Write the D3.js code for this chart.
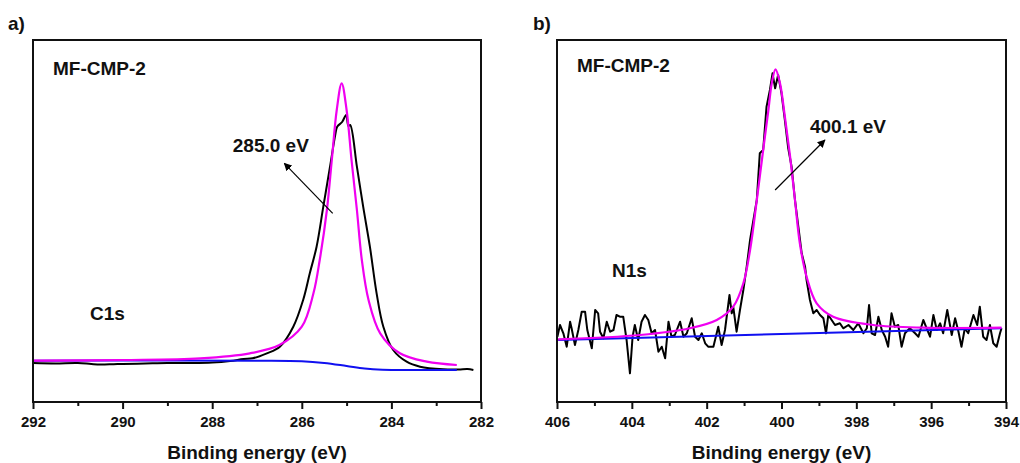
<!DOCTYPE html>
<meta charset="utf-8">
<style>
body { margin: 0; background: #fff; }
text { font-family: "Liberation Sans", Arial, sans-serif; font-weight: bold; fill: #111; }
.frame { fill: none; stroke: #111; stroke-width: 2px; }
.axis path { display: none; }
.axis line { stroke: #111; stroke-width: 2px; }
.axis text { font-size: 15px; }
.raw { fill: none; stroke: #000; stroke-width: 2px; stroke-linejoin: round; }
.bg { fill: none; stroke: #1010f0; stroke-width: 2px; }
.fit { fill: none; stroke: #f000f0; stroke-width: 2.2px; }
.arrow { stroke: #000; stroke-width: 1.2px; }
</style>
<svg width="1020" height="463"></svg>
<script src="https://d3js.org/d3.v7.min.js"></script>
<script>

// ---- C1s (panel a): [binding energy eV, intensity a.u.]
var c1sRaw = [
  [292.0, 39], [291.5, 38.6], [291.0, 39], [290.7, 38], [290.5, 37.5], [290.2, 37.8], [290.0, 38],
  [289.5, 38.5], [289.0, 39], [288.5, 39], [288.0, 39.5], [287.6, 41], [287.3, 43], [287.1, 43.7],
  [286.78, 48.7], [286.49, 55.3], [286.19, 75.3], [285.97, 102], [285.82, 129], [285.67, 155.3],
  [285.52, 195.3], [285.37, 235.3], [285.25, 268], [285.21, 275.3], [285.1, 280], [285.01, 287],
  [284.96, 276], [284.92, 277], [284.77, 235.3], [284.63, 195.3], [284.48, 155.3], [284.33, 108.7],
  [284.18, 75.3], [283.96, 52], [283.66, 40.3], [283.36, 35.3], [282.84, 32.7], [282.5, 32.5],
  [282.3, 32.9], [282.17, 32]
];
var c1sBackground = [
  [292.0, 41.3], [289.0, 41.5], [287.0, 41.2], [286.0, 40.7], [285.5, 39], [285.0, 36],
  [284.6, 33.5], [284.2, 32.3], [283.5, 32], [282.54, 32]
];
var c1sFit = [
  [292.0, 41.3], [290.0, 42], [288.27, 43.7], [287.16, 48.7], [286.5, 57], [286.0, 75.3],
  [285.74, 108.7], [285.6, 142], [285.44, 192], [285.33, 242], [285.22, 292], [285.11, 318.7],
  [285.0, 292], [284.89, 242], [284.77, 192], [284.66, 142], [284.51, 102], [284.25, 68.7],
  [283.81, 48.7], [283.21, 40.3], [282.54, 37]
];

// ---- N1s (panel b)
var n1sRaw = [
  [405.99, 65.3], [405.92, 77], [405.83, 68.7], [405.74, 55.3], [405.65, 80.3], [405.61, 73.7],
  [405.52, 57], [405.43, 72], [405.34, 90.3], [405.25, 90.3], [405.19, 72], [405.07, 53.7],
  [404.98, 92], [404.90, 88.7], [404.85, 70.3], [404.76, 63.7], [404.67, 80.3], [404.58, 70.3],
  [404.49, 72], [404.41, 87], [404.32, 85.3], [404.23, 85.3], [404.14, 62], [404.05, 28.7],
  [403.98, 65.3], [403.92, 77], [403.83, 62], [403.74, 80.3], [403.65, 87], [403.56, 82],
  [403.47, 68.7], [403.38, 72], [403.29, 50.3], [403.20, 55.3], [403.11, 43.7], [403.02, 80.3],
  [402.94, 65.3], [402.85, 67], [402.71, 80.3], [402.62, 65.3], [402.53, 68.7], [402.40, 83.7],
  [402.31, 65.3], [402.22, 62], [402.13, 68.7], [402.04, 58.7], [401.96, 55.3], [401.82, 55.3],
  [401.69, 75.3], [401.60, 57], [401.51, 72], [401.39, 107], [401.33, 88.7], [401.29, 95.3],
  [401.20, 70.3], [401.11, 92], [401.02, 112], [400.93, 135.3], [400.84, 162], [400.75, 182],
  [400.66, 202], [400.58, 248.7], [400.49, 252], [400.40, 295.3], [400.31, 312], [400.24, 328.7],
  [400.17, 313.7], [400.09, 327], [400.00, 308.7], [399.91, 282], [399.82, 253.7], [399.73, 235.3],
  [399.64, 202], [399.55, 175.3], [399.46, 148.7], [399.37, 135.3], [399.33, 122], [399.24, 102],
  [399.15, 88.7], [399.06, 92], [398.97, 87], [398.88, 83.7], [398.81, 68.7], [398.75, 87],
  [398.66, 82], [398.57, 77], [398.44, 78.7], [398.35, 73.7], [398.21, 77], [398.08, 72],
  [397.95, 78.7], [397.81, 68.7], [397.72, 73.7], [397.66, 97], [397.59, 68.7], [397.50, 67],
  [397.41, 85.3], [397.32, 72], [397.23, 65.3], [397.15, 55.3], [397.06, 88.7], [396.97, 75.3],
  [396.88, 77], [396.79, 55.3], [396.70, 68.7], [396.57, 73.7], [396.43, 68.7], [396.34, 65.3],
  [396.21, 82], [396.12, 73.7], [396.03, 65.3], [395.94, 87], [395.85, 72], [395.76, 78.7],
  [395.68, 68.7], [395.57, 92], [395.45, 67], [395.36, 83.7], [395.27, 70.3], [395.19, 55.3],
  [395.10, 73.7], [395.01, 68.7], [394.87, 87], [394.77, 77], [394.70, 95.3], [394.61, 65.3],
  [394.52, 62], [394.43, 77], [394.34, 58.7], [394.25, 55.3], [394.16, 68.7], [394.12, 73.7]
];
var n1sBackground = [[405.97, 62], [394.12, 73.7]];
var n1sFit = [
  [405.97, 62.7], [403.78, 67], [402.45, 73.7], [401.73, 82], [401.29, 95.3], [401.02, 118.7],
  [400.84, 152], [400.66, 202], [400.49, 252], [400.35, 292], [400.26, 318.7], [400.16, 332.7],
  [400.04, 318.7], [399.91, 285.3], [399.77, 245.3], [399.64, 202], [399.51, 158.7],
  [399.33, 125.3], [399.06, 98.7], [398.62, 85.3], [397.55, 77], [396.21, 74.3], [394.12, 74.3]
];

// tick values
var c1sTicks = [292, 290, 288, 286, 284, 282];
var c1sMinor = [291, 289, 287, 285, 283];
var n1sTicks = [406, 404, 402, 400, 398, 396, 394];
var n1sMinor = [405, 403, 401, 399, 397, 395];

// annotations: [eV, intensity] of arrow tail, arrow tip, label anchor
var c1sPeak = {label: "285.0 eV", tail: [285.31, 188.7], tip: [286.39, 238.7], text: [287.54, 250]};
var n1sPeak = {label: "400.1 eV", tail: [400.17, 212], tip: [398.84, 262], text: [399.24, 269]};

var svg = d3.select("svg");

svg.append("defs").append("marker")
  .attr("id", "head")
  .attr("viewBox", "0 0 10 10")
  .attr("refX", 9).attr("refY", 5)
  .attr("markerWidth", 8).attr("markerHeight", 8)
  .attr("markerUnits", "userSpaceOnUse")
  .attr("orient", "auto")
  .append("path").attr("d", "M0,0L10,5L0,10z").attr("fill", "#000");

var panels = [
  {tag: "a)", tagX: 8, left: 33, right: 481, domain: [292, 282], ticks: c1sTicks, minor: c1sMinor,
   raw: c1sRaw, rawSmooth: true, bg: c1sBackground, fit: c1sFit, peak: c1sPeak,
   core: "C1s", coreX: 90, coreY: 320, nameY: 75},
  {tag: "b)", tagX: 533, left: 557, right: 1006, domain: [406, 394], ticks: n1sTicks, minor: n1sMinor,
   raw: n1sRaw, rawSmooth: false, bg: n1sBackground, fit: n1sFit, peak: n1sPeak,
   core: "N1s", coreX: 612, coreY: 277, nameY: 72}
];

var plotTop = 40, plotBottom = 402;

panels.forEach(function(p) {
  var x = d3.scaleLinear().domain(p.domain).range([p.left, p.right]);
  var y = d3.scaleLinear().domain([0, 362]).range([plotBottom, plotTop]);
  var smooth = d3.line().x(d => x(d[0])).y(d => y(d[1])).curve(d3.curveCatmullRom.alpha(0.5));
  var straight = d3.line().x(d => x(d[0])).y(d => y(d[1]));
  var g = svg.append("g");

  g.append("path").datum(p.raw).attr("class", "raw").attr("d", p.rawSmooth ? smooth : straight);
  g.append("path").datum(p.bg).attr("class", "bg").attr("d", smooth);
  g.append("path").datum(p.fit).attr("class", "fit").attr("d", smooth);

  // axes
  g.append("g").attr("class", "axis")
    .attr("transform", "translate(0," + plotBottom + ")")
    .call(d3.axisBottom(x).tickValues(p.ticks).tickSize(7).tickPadding(7).tickFormat(d3.format("d")));
  g.append("g").attr("class", "axis")
    .attr("transform", "translate(0," + plotBottom + ")")
    .call(d3.axisBottom(x).tickValues(p.minor).tickSize(4).tickFormat(""));

  g.append("rect").attr("class", "frame")
    .attr("x", p.left).attr("y", plotTop)
    .attr("width", p.right - p.left).attr("height", plotBottom - plotTop);

  g.append("text").attr("x", (p.left + p.right) / 2).attr("y", 459)
    .attr("text-anchor", "middle").style("font-size", "19px")
    .text("Binding energy (eV)");

  g.append("text").attr("x", p.tagX).attr("y", 30).style("font-size", "19px").text(p.tag);
  g.append("text").attr("x", p.left + 20).attr("y", p.nameY).style("font-size", "19px").text("MF-CMP-2");
  g.append("text").attr("x", p.coreX).attr("y", p.coreY).style("font-size", "19px").text(p.core);

  g.append("line").attr("class", "arrow")
    .attr("x1", x(p.peak.tail[0])).attr("y1", y(p.peak.tail[1]))
    .attr("x2", x(p.peak.tip[0])).attr("y2", y(p.peak.tip[1]))
    .attr("marker-end", "url(#head)");
  g.append("text").attr("x", x(p.peak.text[0])).attr("y", y(p.peak.text[1]))
    .style("font-size", "19px").text(p.peak.label);
});
</script>
